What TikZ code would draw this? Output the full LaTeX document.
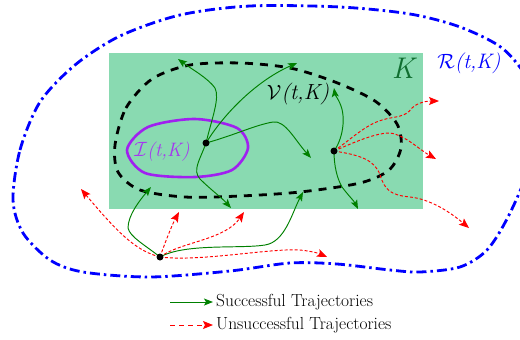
\documentclass[tikz,border=0pt]{standalone}
\usepackage{fontspec}
\let\timesfont\rmfamily
\usetikzlibrary{arrows.meta}
\definecolor{kfill}{RGB}{137,218,177}
\definecolor{kgreen}{RGB}{16,110,48}
\definecolor{trajgreen}{RGB}{0,128,0}
\definecolor{ipurple}{RGB}{160,32,240}
\definecolor{ltpurple}{RGB}{165,55,240}
\tikzset{
  succ/.style={trajgreen, line width=0.95bp, -{Stealth[length=9bp,width=7bp,inset=2bp]}},
  fail/.style={red, line width=0.95bp, dash pattern=on 3bp off 2bp, -{Stealth[length=10bp,width=8bp,inset=2bp]}},
  dot/.style={circle, fill=black, inner sep=0pt, minimum size=7bp},
  lbl/.style={font=\timesfont\fontsize{22}{24}\selectfont\itshape, inner sep=0pt},
  legtext/.style={font=\timesfont\fontsize{17.5}{19}\selectfont, anchor=west, inner sep=0pt},
}
\begin{document}
\begin{tikzpicture}[x=1bp,y=-1bp]
\useasboundingbox (0,0) rectangle (520,339);
% reachable set boundary
\draw[blue, line width=2.8bp, dash pattern=on 10bp off 4bp on 2.5bp off 4bp]
  plot[smooth cycle] coordinates {(13,200) (20,150) (40,102) (75,65) (120,36) (180,15) (250,6) (340,7) (410,14) (460,27) (502,48) (528,80) (537,120) (528,170) (508,217) (487,250) (460,267) (420,272) (390,270) (337,264) (290,263) (230,271) (150,277) (83,272) (50,260) (23,233)};
% constraint set K
\fill[kfill] (109,53) rectangle (423,209);
\node[lbl, kgreen, font=\timesfont\fontsize{30}{32}\selectfont\itshape] (klabel) at (403,68) {K};
% viability kernel
\draw[black, line width=2.8bp, dash pattern=on 8bp off 7bp]
  plot[smooth cycle] coordinates {(115,145) (126,108) (152,79) (190,65) (240,63) (290,68) (335,82) (375,101) (397,124) (401,148) (389,170) (360,183) (300,192) (240,196) (185,197) (140,190) (118,172)};
% invariant set
\draw[ipurple, line width=2.6bp]
  plot[smooth cycle] coordinates {(127,150) (148,127) (195,119) (237,128) (248,148) (232,170) (195,177) (145,173)};
% labels
\node[lbl, ltpurple, font=\timesfont\fontsize{19.5}{21}\selectfont\itshape] (ilabel) at (162,152) {$\mathcal{I}$(t,K)};
\node[lbl, black] (vlabel) at (298,94) {$\mathcal{V}$(t,K)};
\node[lbl, blue, font=\timesfont\fontsize{21}{23}\selectfont\itshape] (rlabel) at (469,63) {$\mathcal{R}$(t,K)};
% points
\coordinate (d1) at (206,143);
\coordinate (d2) at (334,151);
\coordinate (d3) at (160,257);
% tips
\coordinate (ta) at (178,59);
\coordinate (tb) at (297,63);
\coordinate (tc) at (311,158);
\coordinate (td) at (231,208);
\coordinate (te) at (334,88);
\coordinate (tf) at (358,209);
\coordinate (tg) at (151,187);
\coordinate (th) at (303,192);
\coordinate (ti) at (81,189);
\coordinate (tj) at (179,212);
\coordinate (tk) at (244,212);
\coordinate (tl) at (327,257);
\coordinate (tm) at (439,101);
\coordinate (tn) at (436,159);
\coordinate (to) at (469,228);
% successful trajectories
\draw[succ] (d1) .. controls (212,118) and (220,98) .. (215,88) .. controls (208,78) and (190,68) .. (ta);
\draw[succ] (d1) .. controls (225,112) and (258,80) .. (tb);
\draw[succ] (d1) .. controls (235,135) and (255,125) .. (273,122) .. controls (285,120) and (295,140) .. (tc);
\draw[succ] (d1) .. controls (200,160) and (192,170) .. (200,179) .. controls (210,189) and (222,198) .. (td);
\draw[succ] (d2) .. controls (342,140) and (346,120) .. (341,106) .. controls (338,98) and (335,95) .. (te);
\draw[succ] (d2) .. controls (334,166) and (337,178) .. (342,187) .. controls (348,195) and (354,201) .. (tf);
\draw[succ] (d3) .. controls (145,245) and (130,237) .. (128,228) .. controls (128,215) and (140,200) .. (tg);
\draw[succ] (d3) .. controls (185,243) and (240,249) .. (265,245) .. controls (285,242) and (292,213) .. (th);
% unsuccessful trajectories
\draw[fail] (d3) .. controls (138,251) and (122,238) .. (ti);
\draw[fail] (d3) .. controls (166,240) and (172,225) .. (tj);
\draw[fail] (d3) .. controls (180,242) and (225,240) .. (tk);
\draw[fail] (d3) .. controls (200,262) and (270,248) .. (300,250) .. controls (310,251) and (318,253) .. (tl);
\draw[fail] (d2) .. controls (350,140) and (365,125) .. (382,120) .. controls (395,116) and (405,118) .. (412,108) .. controls (418,102) and (428,101) .. (tm);
\draw[fail] (d2) .. controls (355,142) and (375,133) .. (390,133) .. controls (405,135) and (420,150) .. (tn);
\draw[fail] (d2) .. controls (360,155) and (375,160) .. (380,175) .. controls (385,190) and (390,195) .. (410,197) .. controls (430,199) and (450,212) .. (to);
% start points drawn on top
\node[dot] (p1) at (d1) {};
\node[dot] (p2) at (d2) {};
\node[dot] (p3) at (d3) {};
% legend
\coordinate (ls1) at (170,302);
\coordinate (le1) at (213,302);
\coordinate (ls2) at (170,325);
\coordinate (le2) at (213,325);
\draw[succ] (ls1) -- (le1);
\draw[fail, dash pattern=on 5bp off 4bp] (ls2) -- (le2);
\node[legtext] (leg1) at (216,302) {Successful Trajectories};
\node[legtext] (leg2) at (216,325) {Unsuccessful Trajectories};
\end{tikzpicture}
\end{document}
